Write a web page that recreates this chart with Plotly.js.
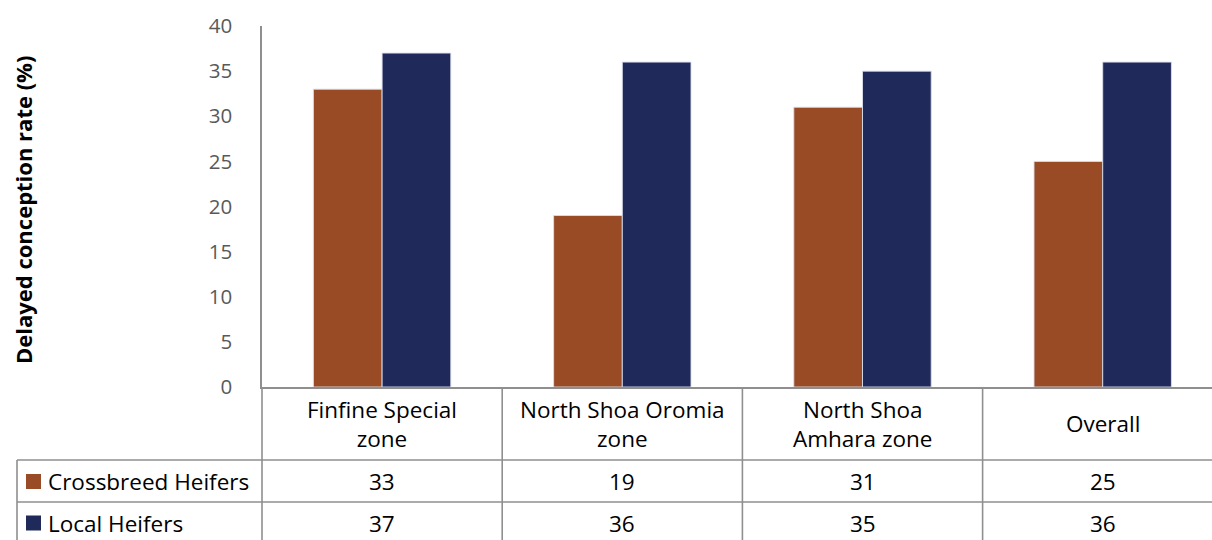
<!DOCTYPE html>
<html>
<head>
<meta charset="utf-8">
<script src="https://cdn.plot.ly/plotly-3.0.1.min.js"></script>
<style>
  html, body { margin: 0; padding: 0; background: #ffffff; }
  #chart { width: 1212px; height: 540px; }
</style>
</head>
<body>
<div id="chart"></div>
<script>
// Delayed conception rate by zone and heifer type
const zones = ['Finfine Special zone', 'North Shoa Oromia zone', 'North Shoa Amhara zone', 'Overall'];
const zoneLabels = ['Finfine Special<br>zone', 'North Shoa Oromia<br>zone', 'North Shoa<br>Amhara zone', 'Overall'];
const seriesNames = ['Crossbreed Heifers', 'Local Heifers'];
const crossbreedHeifers = [33, 19, 31, 25];
const localHeifers = [37, 36, 35, 36];
const yTickValues = [0, 5, 10, 15, 20, 25, 30, 35, 40];
const yAxisTitle = 'Delayed conception rate (%)';

const seriesValues = [crossbreedHeifers, localHeifers];
const seriesColors = ['#984B24', '#1F295A'];

// Page geometry (pixels)
const W = 1212, H = 540;
const M = { l: 262, r: 0, t: 26, b: 153 };
const plotW = W - M.l - M.r;
const plotH = H - M.t - M.b;
const xRange = [-0.5, 3.455];

const pxX = px => (px - M.l) / plotW;          // pixel x -> paper x
const pxY = py => (H - M.b - py) / plotH;      // pixel y -> paper y
const catX = c => (c - xRange[0]) / (xRange[1] - xRange[0]); // category coord -> paper x

const gridColor = '#8F8F8F';
const textFont = '"Open Sans", Lato, sans-serif';
const tableFontSize = 22.5;

// Data table rows beneath the axis
const rowTops = [460, 502], tableBottom = 540;
const tableLeft = 17;
const rowCenters = [481.5, 523];
const headerCenter = 424;

const traces = seriesNames.map((name, s) => ({
  type: 'bar',
  name: name,
  x: zones,
  y: seriesValues[s],
  marker: { color: seriesColors[s], line: { color: 'rgba(220,222,235,0.9)', width: 1 } },
  hoverinfo: 'skip'
}));

const shapes = [];
const line = { color: gridColor, width: 1.6 };
// vertical axis continued through the table
shapes.push({ type: 'line', xref: 'paper', yref: 'paper', x0: 0, x1: 0, y0: 0, y1: pxY(tableBottom), line });
// column separators between categories
for (let c = 0; c < zones.length; c++) {
  const xp = catX(c + 0.5);
  if (xp < 1) shapes.push({ type: 'line', xref: 'paper', yref: 'paper', x0: xp, x1: xp, y0: 0, y1: pxY(tableBottom), line });
}
// row separators
rowTops.forEach(py => {
  shapes.push({ type: 'line', xref: 'paper', yref: 'paper', x0: pxX(tableLeft), x1: 1, y0: pxY(py), y1: pxY(py), line });
});
// left border of the series rows
shapes.push({ type: 'line', xref: 'paper', yref: 'paper', x0: pxX(tableLeft), x1: pxX(tableLeft), y0: pxY(rowTops[0]), y1: pxY(tableBottom), line });
// legend keys
seriesNames.forEach((name, s) => {
  const cy = rowCenters[s];
  shapes.push({
    type: 'rect', xref: 'paper', yref: 'paper',
    x0: pxX(26), x1: pxX(41), y0: pxY(cy - 7.5), y1: pxY(cy + 7.5),
    fillcolor: seriesColors[s], line: { width: 0 }
  });
});

const annotations = [];
// category headers
zoneLabels.forEach((label, c) => {
  annotations.push({
    xref: 'x', yref: 'paper', x: zones[c], y: pxY(headerCenter),
    text: label, showarrow: false, xanchor: 'center', yanchor: 'middle', align: 'center',
    font: { family: textFont, size: tableFontSize, color: '#000000' }
  });
});
// series names and values
seriesNames.forEach((name, s) => {
  annotations.push({
    xref: 'paper', yref: 'paper', x: pxX(46), y: pxY(rowCenters[s]),
    text: name, showarrow: false, xanchor: 'left', yanchor: 'middle',
    font: { family: textFont, size: tableFontSize, color: '#000000' }
  });
  seriesValues[s].forEach((v, c) => {
    annotations.push({
      xref: 'x', yref: 'paper', x: zones[c], y: pxY(rowCenters[s]),
      text: String(v), showarrow: false, xanchor: 'center', yanchor: 'middle',
      font: { family: textFont, size: tableFontSize, color: '#000000' }
    });
  });
});
// vertical axis title
annotations.push({
  xref: 'paper', yref: 'paper', x: pxX(23), y: pxY(210),
  text: '<b>' + yAxisTitle + '</b>', textangle: -90, showarrow: false,
  xanchor: 'center', yanchor: 'middle',
  font: { family: textFont, size: 22, color: '#000000' }
});

const layout = {
  width: W, height: H,
  margin: M,
  paper_bgcolor: '#ffffff', plot_bgcolor: '#ffffff',
  showlegend: false,
  barmode: 'group', bargap: 0.428, bargroupgap: 0,
  xaxis: {
    type: 'category', range: xRange, fixedrange: true,
    showticklabels: false, ticks: '', showgrid: false, zeroline: false,
    showline: true, linecolor: gridColor, linewidth: 1.6
  },
  yaxis: {
    range: [0, 40], tickvals: yTickValues, fixedrange: true,
    ticks: '', showgrid: false, zeroline: false,
    showline: true, linecolor: gridColor, linewidth: 1.6,
    ticklabelstandoff: 24,
    tickfont: { family: textFont, size: 20.5, color: '#595959' }
  },
  shapes, annotations,
  hovermode: false
};

Plotly.newPlot('chart', traces, layout, { displayModeBar: false, staticPlot: true });
</script>
</body>
</html>
